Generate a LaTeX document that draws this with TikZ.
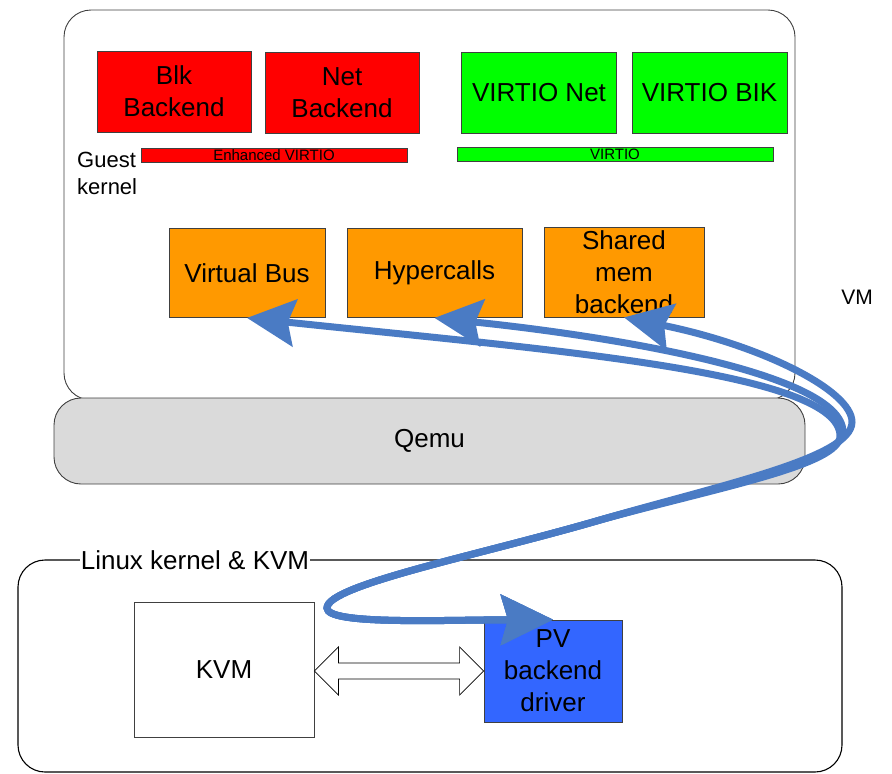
\documentclass[tikz,border=0pt]{standalone}
\usepackage{fontspec}
\setmainfont{Liberation Sans}
\usetikzlibrary{arrows.meta,calc}
\definecolor{redfill}{HTML}{FF0000}
\definecolor{greenfill}{HTML}{00FF00}
\definecolor{orangefill}{HTML}{FF9900}
\definecolor{pvblue}{HTML}{3366FF}
\definecolor{connblue}{HTML}{4A7BC4}
\definecolor{qemugray}{HTML}{DADADA}
\definecolor{edgegray}{HTML}{404040}
\tikzset{
  boxbase/.style={draw=edgegray, line width=0.8pt, inner sep=0pt, align=center,
    font=\fontsize{26}{32}\selectfont},
  redbox/.style={boxbase, fill=redfill, minimum width=154pt, minimum height=81pt},
  greenbox/.style={boxbase, fill=greenfill, minimum width=155pt, minimum height=81pt},
  orangebox/.style={boxbase, fill=orangefill, minimum height=89pt},
  barbox/.style={draw=edgegray, line width=0.8pt, inner sep=0pt, minimum height=14pt,
    font=\fontsize{15}{16}\selectfont},
  bigframe/.style={draw=edgegray, line width=0.9pt, rounded corners=27pt, inner sep=0pt},
  conn/.style={draw=connblue, line width=7pt, line cap=round,
    arrows={Stealth[length=48pt,width=47pt,inset=7pt]-Stealth[length=52pt,width=50pt,inset=7pt]}},
}
\begin{document}
\begin{tikzpicture}[x=1pt,y=-1pt]
\useasboundingbox (0,0) rectangle (892,774);

% VM frame and Qemu
\node[bigframe, fill=white, minimum width=731pt, minimum height=390pt] (vm) at (429.5,205) {};
\node[bigframe, fill=qemugray, minimum width=751pt, minimum height=86pt,
  font=\fontsize{26}{32}\selectfont] (qemu) at (429.5,441) {Qemu};
\node[font=\fontsize{21}{24}\selectfont] (vmlabel) at (857,297) {VM};

% top row
\node[redbox] (blk) at (174,91.5) {Blk\\Backend};
\node[redbox] (net) at (342,92.5) {Net\\Backend};
\node[greenbox] (vnet) at (539,92.5) {VIRTIO Net};
\node[greenbox] (vbik) at (709.5,92.5) {VIRTIO BIK};

% bars
\node[barbox, fill=redfill, minimum width=266pt] (enh) at (274,155) {Enhanced VIRTIO};
\node[barbox, fill=greenfill, minimum width=316pt] (virtio) at (615,154) {VIRTIO};

\node[anchor=west, align=left, inner sep=0pt, font=\fontsize{22}{27}\selectfont] (guest) at (77,173) {Guest\\kernel};

% orange row
\node[orangebox, minimum width=156pt] (vbus) at (247,273) {Virtual Bus};
\node[orangebox, minimum width=175pt] (hyper) at (434.5,273) {Hypercalls};
\node[orangebox, minimum width=160pt, minimum height=90pt] (shm) at (624,272) {Shared\\mem\\backend};

% Linux kernel & KVM
\node[bigframe, draw=black, line width=1.1pt, minimum width=824pt, minimum height=212pt] (linux) at (430,666) {};
\node[fill=white, inner xsep=1pt, inner ysep=0pt, font=\fontsize{26}{32}\selectfont] (linuxlabel) at (195,560) {Linux kernel \& KVM};

\node[boxbase, fill=white, minimum width=180pt, minimum height=135pt] (kvm) at (224,670) {KVM};
\node[boxbase, fill=pvblue, minimum width=138pt, minimum height=102pt] (pv) at (553,671) {PV\\backend\\driver};

% hollow double arrow
\coordinate (la) at (kvm.east |- pv.west);
\draw[draw=black, fill=white, line width=0.7pt, line join=miter]
  (la) -- ($(la)+(24,-24)$) -- ($(la)+(24,-8)$) -- ($(pv.west)+(-24,-8)$)
  -- ($(pv.west)+(-24,-24)$) -- (pv.west) -- ($(pv.west)+(-24,24)$)
  -- ($(pv.west)+(-24,8)$) -- ($(la)+(24,8)$) -- ($(la)+(24,24)$) -- cycle;

% blue connectors
\draw[conn] (vbus.south) .. controls (550,350) and (840,372) .. (840,436)
  .. controls (840,465) and (720,487) .. (600,520)
  .. controls (480,555) and (327,585) .. (327,608)
  .. controls (327,625) and (440,620) .. (pv.north);
\draw[conn] (hyper.south) .. controls (600,335) and (843,372) .. (843,432)
  .. controls (843,462) and (720,486) .. (600,520)
  .. controls (480,555) and (327,585) .. (327,608)
  .. controls (327,625) and (440,620) .. (pv.north);
\draw[conn] (shm.south) .. controls (760,345) and (852,390) .. (852,422)
  .. controls (852,458) and (720,485) .. (600,520)
  .. controls (480,555) and (327,585) .. (327,608)
  .. controls (327,625) and (440,620) .. (pv.north);
\end{tikzpicture}
\end{document}
